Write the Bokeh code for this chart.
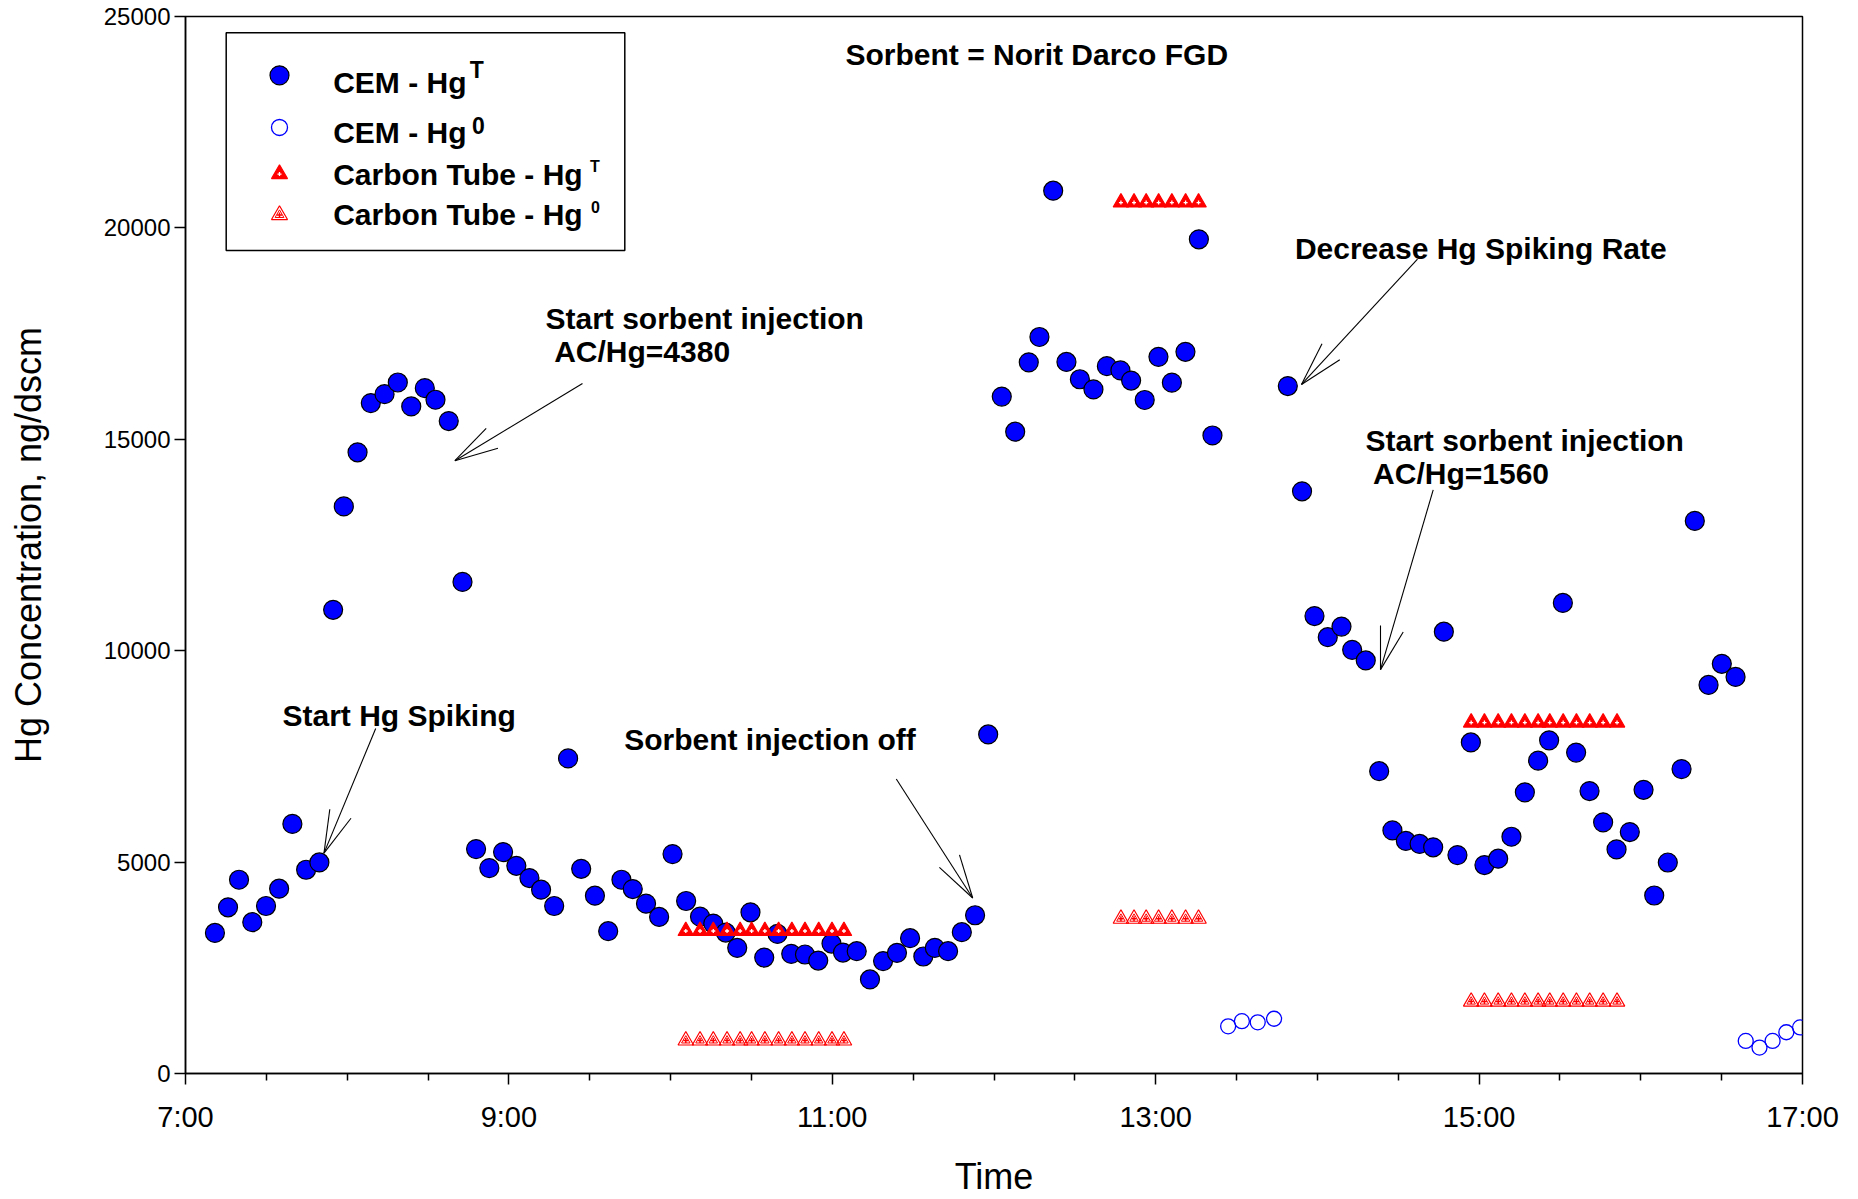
from bokeh.plotting import figure
from bokeh.models import FixedTicker, Label, BoxAnnotation, Range1d, NumeralTickFormatter
from bokeh.embed import file_html
from bokeh.resources import INLINE

# ---------------- data (time in decimal hours, Hg in ng/dscm) ----------------
cem_t_time = [7.182, 7.263, 7.331, 7.413, 7.498, 7.579, 7.661, 7.746, 7.828, 7.913,
              7.979, 8.064, 8.146, 8.231, 8.313, 8.396, 8.480, 8.546, 8.628, 8.713,
              8.797, 8.879, 8.964, 9.046, 9.127, 9.199, 9.280, 9.366, 9.447, 9.532,
              9.614, 9.696, 9.766, 9.848, 9.929, 10.012, 10.096, 10.182, 10.264, 10.341,
              10.412, 10.494, 10.579, 10.661, 10.746, 10.831, 10.913, 10.995, 11.066, 11.151,
              11.233, 11.314, 11.400, 11.481, 11.563, 11.634, 11.716, 11.801, 11.883, 11.964,
              12.048, 12.131, 12.215, 12.281, 12.366, 12.448, 12.531, 12.615, 12.698, 12.782,
              12.848, 12.932, 13.017, 13.100, 13.184, 13.267, 13.351,
              13.817, 13.905, 13.982, 14.064, 14.149, 14.215, 14.299, 14.382, 14.464, 14.547,
              14.632, 14.716, 14.782, 14.866, 14.949, 15.033, 15.118, 15.200, 15.283, 15.365,
              15.433, 15.518, 15.600, 15.683, 15.767, 15.850, 15.932, 16.017, 16.083, 16.167,
              16.252, 16.334, 16.419, 16.501, 16.586]
cem_t_val = [3325, 3931, 4583, 3578, 3962, 4371, 5904, 4819, 4992, 10967,
             13413, 14693, 15856, 16068, 16344, 15778, 16210, 15936, 15432, 11627,
             5307, 4858, 5236, 4913, 4623, 4347, 3962, 7453, 4842, 4206,
             3366, 4583, 4363, 4017, 3703, 5189, 4080, 3710, 3545, 3333,
             2972, 3813, 2743, 3302, 2830, 2814, 2672, 3073, 2861, 2893,
             2224, 2658, 2854, 3200, 2767, 2972, 2893, 3342, 3743, 8019,
             16010, 15180, 16820, 17420, 20880, 16830, 16420, 16180, 16730, 16630,
             16390, 15930, 16950, 16340, 17070, 19730, 15090,
             16260, 13770, 10820, 10320, 10570, 10020, 9770, 7150, 5750, 5500,
             5430, 5350, 10450, 5165, 7830, 4930, 5080, 5600, 6650, 7400,
             7880, 11130, 7590, 6680, 5940, 5300, 5710, 6710, 4210, 4990,
             7200, 13070, 9190, 9690, 9380]

cem_0_time = [13.448, 13.533, 13.631, 13.732, 16.649, 16.734, 16.815, 16.900, 16.985]
cem_0_val = [1116, 1238, 1210, 1295, 771, 613, 771, 976, 1090]

tube_t_time = [10.094, 10.182, 10.264, 10.349, 10.430, 10.501, 10.583, 10.668, 10.750,
               10.831, 10.916, 10.998, 11.072,
               12.785, 12.866, 12.941, 13.018, 13.100, 13.185, 13.265,
               14.951, 15.033, 15.118, 15.200, 15.283, 15.365, 15.437, 15.520, 15.602,
               15.684, 15.767, 15.853]
tube_t_val = [3370] * 13 + [20600] * 7 + [8300] * 12

tube_0_time = list(tube_t_time)
tube_0_val = [780] * 13 + [3660] * 7 + [1700] * 12

x_ticks = [7, 9, 11, 13, 15, 17]
x_tick_labels = ["7:00", "9:00", "11:00", "13:00", "15:00", "17:00"]
x_minor_ticks = [7.5, 8.0, 8.5, 9.5, 10.0, 10.5, 11.5, 12.0, 12.5, 13.5, 14.0, 14.5,
                 15.5, 16.0, 16.5]
y_ticks = [0, 5000, 10000, 15000, 20000, 25000]

# ---------------- layout helpers ----------------
W, H = 1858, 1199
FL, FR, FT, FB = 185, 1802, 16, 1076
X0, X1, Y0, Y1 = 7, 17, 0, 25000


def tx(px):
    return X0 + (px - FL) / (FR - FL) * (X1 - X0)


def vy(py):
    return Y0 + (FB - py) / (FB - FT) * (Y1 - Y0)


FONT = "Liberation Sans"
BLUE = "#0000FF"
RED = "#FF0000"

p = figure(width=W, height=H, output_backend="svg", toolbar_location=None,
           x_range=Range1d(X0, X1), y_range=Range1d(Y0, Y1),
           min_border_left=FL, min_border_right=W - FR,
           min_border_top=FT, min_border_bottom=H - FB)
p.xgrid.visible = False
p.ygrid.visible = False
p.outline_line_color = "black"
p.outline_line_width = 1.5
p.background_fill_color = "white"
p.border_fill_color = "white"

# axes
p.xaxis.ticker = FixedTicker(ticks=x_ticks, minor_ticks=x_minor_ticks)
p.xaxis.major_label_overrides = dict(zip(x_ticks, x_tick_labels))
p.xaxis.major_label_text_font = FONT
p.xaxis.major_label_text_font_size = "29px"
p.xaxis.major_tick_out = 11
p.xaxis.major_tick_in = 0
p.xaxis.minor_tick_out = 7
p.xaxis.minor_tick_in = 0
p.xaxis.major_label_standoff = 16
p.xaxis.axis_label = "Time"
p.xaxis.axis_label_standoff = 20

p.yaxis.ticker = FixedTicker(ticks=y_ticks, minor_ticks=[])
p.yaxis.formatter = NumeralTickFormatter(format="0")
p.yaxis.major_label_text_font = FONT
p.yaxis.major_label_text_font_size = "24px"
p.yaxis.major_tick_out = 11
p.yaxis.major_tick_in = 0
p.yaxis.minor_tick_out = 0
p.yaxis.minor_tick_in = 0
p.yaxis.major_label_standoff = 4
p.yaxis.axis_label = "Hg Concentration, ng/dscm"
p.yaxis.axis_label_standoff = 52

for ax in (p.xaxis[0], p.yaxis[0]):
    ax.axis_label_text_font = FONT
    ax.axis_label_text_font_size = "36px"
    ax.axis_label_text_font_style = "normal"
    ax.axis_label_text_color = "black"
    ax.major_label_text_color = "black"
    ax.axis_line_color = "black"
    ax.axis_line_width = 1.5
    ax.major_tick_line_color = "black"
    ax.major_tick_line_width = 1.5
    ax.minor_tick_line_color = "black"
    ax.minor_tick_line_width = 1.5


# ---------------- marker styles ----------------
def draw_cem_t(xs, ys):
    p.scatter(xs, ys, marker="circle", size=19, fill_color=BLUE,
              line_color="black", line_width=1.2)


def draw_cem_0(xs, ys):
    p.scatter(xs, ys, marker="circle", size=15, fill_color=None,
              line_color=BLUE, line_width=1.3)


def draw_tube_t(xs, ys, size=15.5):
    p.scatter(xs, ys, marker="triangle", size=size, fill_color=RED,
              line_color=RED, line_width=1.2)
    p.scatter(xs, ys, marker="cross", size=4, line_color="white", line_width=1.3)


def draw_tube_0(xs, ys, size=15.5):
    p.scatter(xs, ys, marker="triangle", size=size, fill_color=None,
              line_color=RED, line_width=1.2)
    p.scatter(xs, ys, marker="triangle", size=size * 0.55, fill_color=None,
              line_color=RED, line_width=1)
    p.scatter(xs, ys, marker="cross", size=5, line_color=RED, line_width=1.5)


draw_cem_t(cem_t_time, cem_t_val)
draw_cem_0(cem_0_time, cem_0_val)
draw_tube_t(tube_t_time, tube_t_val)
draw_tube_0(tube_0_time, tube_0_val)


# ---------------- annotations ----------------
def add_text(txt, px, py, size=30, bold=True):
    # py is the wanted baseline (pixels); compensate renderer baseline offset
    p.add_layout(Label(x=tx(px), y=vy(py - 0.36 * size), text=txt, text_font=FONT,
                       text_font_size=f"{size}px",
                       text_font_style="bold" if bold else "normal",
                       text_align="left", text_baseline="alphabetic",
                       text_color="black"))


add_text("Sorbent = Norit Darco FGD", 845, 65)
add_text("Start sorbent injection", 545, 330)
add_text("AC/Hg=4380", 553.7, 363)
add_text("Start Hg Spiking", 282, 728)
add_text("Sorbent injection off", 623.7, 751.7)
add_text("Decrease Hg Spiking Rate", 1294.4, 259.3)
add_text("Start sorbent injection", 1365, 451.7)
add_text("AC/Hg=1560", 1372.6, 485)

# arrows: (start, tip, head end 1, head end 2) in pixels
arrows = [
    ((375.2, 730), (323.5, 855), (329.3, 811), (350.5, 820)),
    ((582.0, 384), (454.4, 461.5), (485.7, 429), (497.5, 449)),
    ((895.8, 780.7), (972.2, 900), (959.0, 856.7), (938.9, 869.3)),
    ((1417.0, 259.3), (1301.0, 385), (1321.5, 344.3), (1339.3, 360.3)),
    ((1432.7, 490.7), (1380.0, 671), (1380.0, 626.7), (1402.7, 633.3)),
]
sx0, sy0, sx1, sy1 = [], [], [], []
for start, tip, h1, h2 in arrows:
    for a in (start, h1, h2):
        sx0.append(tx(a[0]))
        sy0.append(vy(a[1]))
        sx1.append(tx(tip[0]))
        sy1.append(vy(tip[1]))
p.segment(sx0, sy0, sx1, sy1, line_color="black", line_width=1.1)

# ---------------- legend (manual, with superscripts) ----------------
p.add_layout(BoxAnnotation(left=tx(225.7), right=tx(624.3), top=vy(32.3), bottom=vy(250.7),
                           fill_alpha=0, line_color="black", line_alpha=1, line_width=1.5))
LX = 279
draw_cem_t([tx(LX)], [vy(75)])
p.scatter([tx(LX)], [vy(127.3)], marker="circle", size=16, fill_color=None,
          line_color=BLUE, line_width=1.3)
draw_tube_t([tx(LX)], [vy(174)], size=16)
draw_tube_0([tx(LX)], [vy(215)], size=16)

add_text("CEM - Hg", 332.7, 93.3)
add_text("T", 469.3, 78.3, size=23)
add_text("CEM - Hg", 332.7, 143.3)
add_text("0", 471.5, 133.3, size=23)
add_text("Carbon Tube - Hg", 332.7, 185)
add_text("T", 589.5, 171.7, size=16)
add_text("Carbon Tube - Hg", 332.7, 225)
add_text("0", 590.5, 213.3, size=16)

open("out.html", "w").write(file_html(p, INLINE))
